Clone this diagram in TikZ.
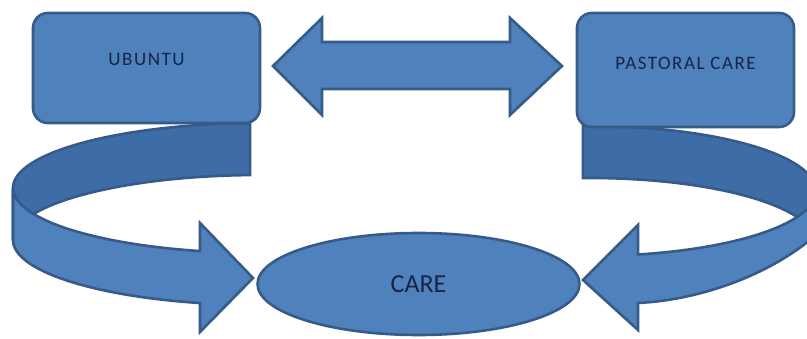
\documentclass[tikz,border=0pt]{standalone}
\usepackage{fontspec}
\setmainfont{Carlito}
\usetikzlibrary{calc,shapes.geometric}
\definecolor{boxblue}{HTML}{4F81BD}
\definecolor{backblue}{HTML}{3E6CA6}
\definecolor{edgeblue}{HTML}{375B88}
\definecolor{txt}{HTML}{17244A}
\begin{document}
\begin{tikzpicture}[x=1pt,y=1pt,
  blockshape/.style={fill=boxblue,draw=edgeblue,line width=2.6pt,line join=miter},
  backshape/.style={blockshape,fill=backblue},
  boxnode/.style={blockshape,rectangle,rounded corners=15pt,line join=round,inner sep=0pt},
  lbl/.style={text=txt,font=\fontsize{19}{21}\selectfont\addfontfeature{LetterSpace=8}}]
\useasboundingbox (0,0) rectangle (807,338);
\clip (0,0) rectangle (807,338);
% back bands of the curved arrows
\draw[backshape] ($(260,150)+(92.3:247 and 65)$)
  arc[start angle=92.3,end angle=180,x radius=247pt,y radius=65pt] -- ++(0,-52)
  arc[start angle=180,end angle=92.3,x radius=247pt,y radius=65pt] -- cycle;
\draw[backshape] ($(590,147)+(91.8:226 and 65)$)
  arc[start angle=91.8,end angle=0,x radius=226pt,y radius=65pt] -- ++(0,-52)
  arc[start angle=0,end angle=91.8,x radius=226pt,y radius=65pt] -- cycle;
% boxes
\node[boxnode,minimum width=227pt,minimum height=110pt,
  label={[lbl,yshift=9pt]center:UBUNTU}] (ubuntu) at (146.5,270) {};
\node[boxnode,minimum width=217pt,minimum height=114pt,
  label={[lbl,yshift=7pt]center:PASTORAL CARE}] (pastoral) at (685.5,268) {};
% double arrow
\draw[blockshape] (273,272) -- (322,320) -- (322,296) -- (510,296) -- (510,320)
  -- (562,272) -- (510,223) -- (510,249) -- (322,249) -- (322,223) -- cycle;
% front bands of the curved arrows
\draw[blockshape] (13,150)
  arc[start angle=180,end angle=255.94,x radius=247pt,y radius=65pt]
  -- (200,115) -- (253,60) -- (200,6) -- ($(260,98)+(255.94:247 and 65)$)
  arc[start angle=255.94,end angle=180,x radius=247pt,y radius=65pt] -- cycle;
\draw[blockshape] ($(590,147)+(282.26:226 and 65)$)
  arc[start angle=282.26,end angle=360,x radius=226pt,y radius=65pt]
  -- (816,103) .. controls (770,63) and (700,38) .. (638,35)
  -- (638,8) -- (583,58) -- (638,113) -- cycle;
% ellipse
\node[blockshape,ellipse,minimum width=322pt,minimum height=102pt,inner sep=0pt,
  text=txt,font=\fontsize{26}{28}\selectfont] (care) at (418.5,54) {CARE};
\end{tikzpicture}
\end{document}
